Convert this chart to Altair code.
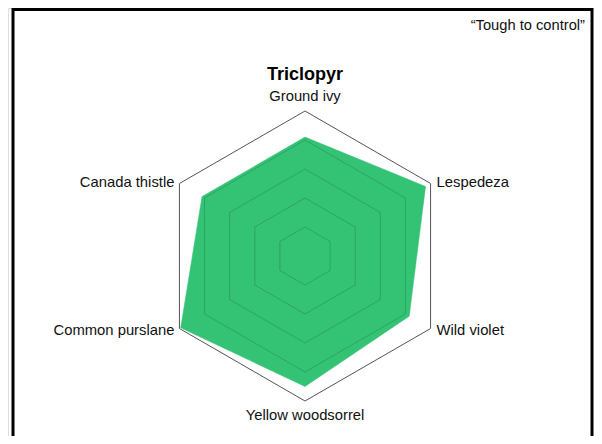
import altair as alt
import pandas as pd

# ---- data ----
CATEGORIES = ["Ground ivy", "Lespedeza", "Wild violet", "Yellow woodsorrel",
              "Common purslane", "Canada thistle"]
VALUES = [4.1, 4.8, 4.15, 4.5, 4.95, 4.1]
GRID_LEVELS = [1, 2, 3, 4, 5]
MAX_VALUE = 5
TITLE = "Triclopyr"
NOTE = "\u201cTough to control\u201d"

# ---- layout (pixels) ----
W, H = 586, 428
CX, CY = 297, 248
R = 145
FONT = "Liberation Sans, Arial, sans-serif"
GREEN = "#34c274"

n = len(CATEGORIES)
x_dom = [-CX / R * MAX_VALUE, (W - CX) / R * MAX_VALUE]
y_dom = [-(H - CY) / R * MAX_VALUE, CY / R * MAX_VALUE]

data = pd.DataFrame({"category": CATEGORIES, "idx": list(range(n)), "value": VALUES})
grid = pd.DataFrame([{"level": lv, "idx": i} for lv in GRID_LEVELS for i in range(n)])
labels = pd.DataFrame({"category": CATEGORIES, "idx": list(range(n))})

ang = f"datum.idx * 2 * PI / {n}"
X = alt.X("px:Q", scale=alt.Scale(domain=x_dom, zero=False, nice=False), axis=None)
Y = alt.Y("py:Q", scale=alt.Scale(domain=y_dom, zero=False, nice=False), axis=None)

grid_base = alt.Chart(grid).transform_calculate(
    px=f"datum.level * sin({ang})", py=f"datum.level * cos({ang})"
)
outer = grid_base.transform_filter(f"datum.level == {MAX_VALUE}").mark_line(
    interpolate="linear-closed", stroke="#555555", strokeWidth=1
).encode(x=X, y=Y, detail="level:O", order="idx:Q")

inner = grid_base.transform_filter(f"datum.level < {MAX_VALUE}").mark_line(
    interpolate="linear-closed", stroke="#000000", strokeOpacity=0.15, strokeWidth=1
).encode(x=X, y=Y, detail="level:O", order="idx:Q")

poly = alt.Chart(data).transform_calculate(
    px=f"datum.value * sin({ang})", py=f"datum.value * cos({ang})"
).mark_line(
    interpolate="linear-closed", fill=GREEN, stroke=GREEN, strokeWidth=0.5
).encode(x=X, y=Y, order="idx:Q")

lab_base = alt.Chart(labels).transform_calculate(
    px=f"{MAX_VALUE} * sin({ang})", py=f"{MAX_VALUE} * cos({ang})"
)
def lab(filter_expr, align, dx, dy):
    return lab_base.transform_filter(filter_expr).mark_text(
        align=align, baseline="middle", dx=dx, dy=dy, font=FONT, fontSize=14.8, color="#111111"
    ).encode(x=X, y=Y, text="category:N")

lab_top = lab("datum.idx == 0", "center", 0, -14)
lab_bot = lab("datum.idx == 3", "center", 0, 15)
lab_r1 = lab("datum.idx == 1", "left", 6, -1)
lab_r2 = lab("datum.idx == 2", "left", 6, 2)
lab_l1 = lab("datum.idx == 5", "right", -5, -1)
lab_l2 = lab("datum.idx == 4", "right", -5, 2)

title = alt.Chart(pd.DataFrame({"t": [TITLE]})).mark_text(
    font=FONT, fontSize=18, fontWeight="bold", align="center", baseline="middle", color="#000000"
).encode(text="t:N", x=alt.value(CX), y=alt.value(67))

note = alt.Chart(pd.DataFrame({"t": [NOTE]})).mark_text(
    font=FONT, fontSize=14.7, align="right", baseline="middle", color="#111111"
).encode(text="t:N", x=alt.value(577), y=alt.value(18))

frame = alt.Chart(pd.DataFrame({"a": [0]})).mark_rect(
    fillOpacity=0, stroke="#000000", strokeWidth=3
).encode(x=alt.value(5), x2=alt.value(584), y=alt.value(1.5), y2=alt.value(470))

chart = alt.layer(
    outer, poly, inner, lab_top, lab_bot, lab_r1, lab_r2, lab_l1, lab_l2, title, note, frame
).properties(
    width=W, height=H, autosize=alt.AutoSizeParams(type="none"), padding=0
).configure_view(strokeOpacity=0).configure(background="white")

chart.save("out.html", embed_options={"renderer": "svg", "actions": False})
